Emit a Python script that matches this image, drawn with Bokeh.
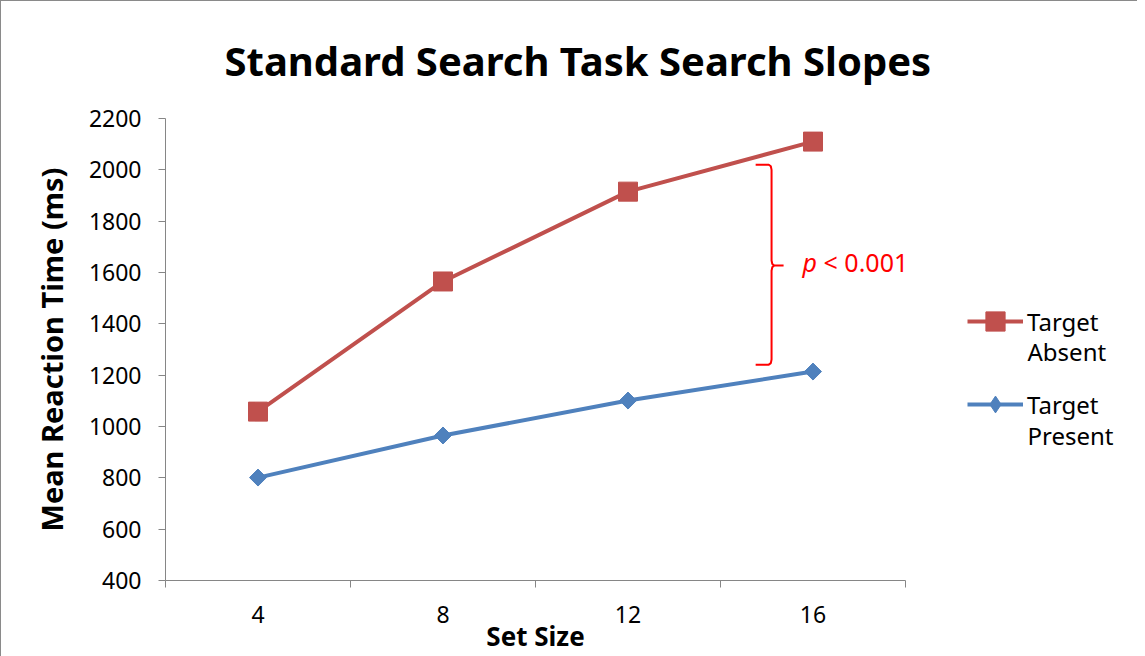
from bokeh.plotting import figure
from bokeh.layouts import row
from bokeh.models import Legend, LegendItem, Label, FixedTicker, Range1d
from bokeh.embed import file_html
from bokeh.resources import INLINE
import math

# ---- data ----
set_sizes = ["4", "8", "12", "16"]
target_absent = [1058, 1565, 1915, 2110]
target_present = [801, 965, 1101, 1214]
y_ticks = [400, 600, 800, 1000, 1200, 1400, 1600, 1800, 2000, 2200]
series_names = ["Target\nAbsent", "Target\nPresent"]
title_text = "Standard Search Task Search Slopes"

# bracket annotation (data units)
bracket_x = 3.776
bracket_top = 2020
bracket_mid = 1627
bracket_bottom = 1241
p_label = "p"
p_rest = "< 0.001"

RED = "#C0504D"
BLUE = "#4F81BD"
GRAY = "#868686"
FONT = "Noto Sans"

xs = [i + 1 for i in range(len(set_sizes))]

p = figure(frame_width=740, frame_height=462, output_backend="svg", toolbar_location=None,
           x_range=Range1d(0.5, len(set_sizes) + 0.5), y_range=Range1d(400, 2200),
           min_border_left=164, min_border_top=117, min_border_right=55, min_border_bottom=68)
p.outline_line_color = None
p.xgrid.grid_line_color = None
p.ygrid.grid_line_color = None
p.background_fill_color = "white"
p.border_fill_color = "white"

# title
p.title.text = title_text
p.title.text_font = FONT
p.title.text_font_size = "40px"
p.title.text_font_style = "bold"
p.title.text_color = "black"
p.title.align = "left"
p.title.offset = 59
p.title.vertical_align = "middle"
p.title.standoff = 60

# axes
p.xaxis.ticker = FixedTicker(ticks=xs, minor_ticks=[x - 0.5 for x in xs] + [xs[-1] + 0.5])
p.xaxis.major_label_overrides = {x: s for x, s in zip(xs, set_sizes)}
p.xaxis.major_tick_out = 0
p.xaxis.major_tick_in = 0
p.xaxis.minor_tick_out = 7
p.xaxis.minor_tick_in = 0
p.xaxis.minor_tick_line_color = GRAY
p.xaxis.axis_line_color = GRAY
p.xaxis.major_label_standoff = 18
p.xaxis.axis_label = "Set Size"
p.xaxis.axis_label_standoff = -8

p.yaxis.ticker = FixedTicker(ticks=y_ticks)
p.yaxis.major_tick_out = 7
p.yaxis.major_tick_in = 0
p.yaxis.minor_tick_out = 0
p.yaxis.minor_tick_in = 0
p.yaxis.major_tick_line_color = GRAY
p.yaxis.axis_line_color = GRAY
p.yaxis.major_label_standoff = 17
p.yaxis.axis_label = "Mean Reaction Time (ms)"
p.yaxis.axis_label_standoff = 15

for ax in (p.xaxis, p.yaxis):
    ax.major_label_text_font = FONT
    ax.major_label_text_font_size = "23px"
    ax.major_label_text_color = "black"
    ax.axis_label_text_font = FONT
    ax.axis_label_text_font_style = "bold"
    ax.axis_label_text_color = "black"
    ax.axis_line_width = 1
p.xaxis.axis_label_text_font_size = "26px"
p.yaxis.axis_label_text_font_size = "29px"

# series
LW = 4
p.line(xs, target_absent, line_color=RED, line_width=LW)
p.scatter(xs, target_absent, marker="square", size=19, fill_color=RED, line_color=RED)
p.line(xs, target_present, line_color=BLUE, line_width=LW)
p.scatter(xs, target_present, marker="square", angle=math.pi / 4, size=12,
          fill_color=BLUE, line_color=BLUE)

# bracket
dx_hook = 0.086
dx_tip = 0.065
cx = 0.015
cy = 20
bx = [bracket_x - dx_hook, bracket_x - cx, bracket_x - 0.004, bracket_x,
      bracket_x, bracket_x + 0.004, bracket_x + cx, bracket_x + dx_tip,
      bracket_x + cx, bracket_x + 0.004, bracket_x,
      bracket_x, bracket_x - 0.004, bracket_x - cx, bracket_x - dx_hook]
by = [bracket_top, bracket_top, bracket_top - 6, bracket_top - cy,
      bracket_mid + cy, bracket_mid + 6, bracket_mid, bracket_mid,
      bracket_mid, bracket_mid - 6, bracket_mid - cy,
      bracket_bottom + cy, bracket_bottom + 6, bracket_bottom, bracket_bottom]
p.line(bx, by, line_color="#FF0000", line_width=2)

p.add_layout(Label(x=bracket_x + 0.167, y=bracket_mid + 12, text=p_label, text_font=FONT,
                   text_font_style="italic", text_font_size="25px", text_color="#FF0000",
                   text_baseline="alphabetic"))
p.add_layout(Label(x=bracket_x + 0.281, y=bracket_mid + 12, text=p_rest, text_font=FONT,
                   text_font_size="25px", text_color="#FF0000", text_baseline="alphabetic"))

# legend panel (separate figure on the right; its renderers are hidden copies of the series)
q = figure(width=177, height=647, output_backend="svg", toolbar_location=None,
           x_range=Range1d(0, 177), y_range=Range1d(0, 647),
           x_axis_location=None, y_axis_location=None, min_border=0)
q.outline_line_color = None
q.xgrid.grid_line_color = None
q.ygrid.grid_line_color = None
q.border_fill_color = "white"
q.background_fill_color = "white"

lr_line = q.line(xs, target_absent, line_color=RED, line_width=LW, visible=False)
lr_mark = q.scatter(xs, target_absent, marker="square", fill_color=RED, line_color=RED,
                    visible=False)
lb_line = q.line(xs, target_present, line_color=BLUE, line_width=LW, visible=False)
lb_mark = q.scatter(xs, target_present, marker="diamond",
                    fill_color=BLUE, line_color=BLUE, visible=False)

first_lines = [n.split("\n")[0] for n in series_names]
second_lines = [n.split("\n")[1] for n in series_names]

common = dict(padding=0, margin=0, glyph_width=56, label_standoff=4,
              label_text_font=FONT, label_text_font_size="24px", label_text_color="black",
              border_line_color=None, background_fill_alpha=0, inactive_fill_alpha=0)
leg_red = Legend(items=[LegendItem(label=first_lines[0], renderers=[lr_line, lr_mark])],
                 location=(7, 227), glyph_height=48, label_height=48, **common)
leg_blue = Legend(items=[LegendItem(label=first_lines[1], renderers=[lb_line, lb_mark])],
                  location=(7, 147), glyph_height=42, label_height=42, **common)
q.add_layout(leg_red)
q.add_layout(leg_blue)
for txt, yy in zip(second_lines, [221, 137]):
    q.add_layout(Label(x=67, y=yy, x_units="screen", y_units="screen", text=txt,
                       text_font=FONT, text_font_size="24px", text_color="black",
                       text_baseline="middle"))

layout = row(p, q)
layout.styles = {"border-left": "1px solid #8a8a8a", "border-top": "1px solid #8a8a8a"}

open("out.html", "w").write(file_html(layout, INLINE))
